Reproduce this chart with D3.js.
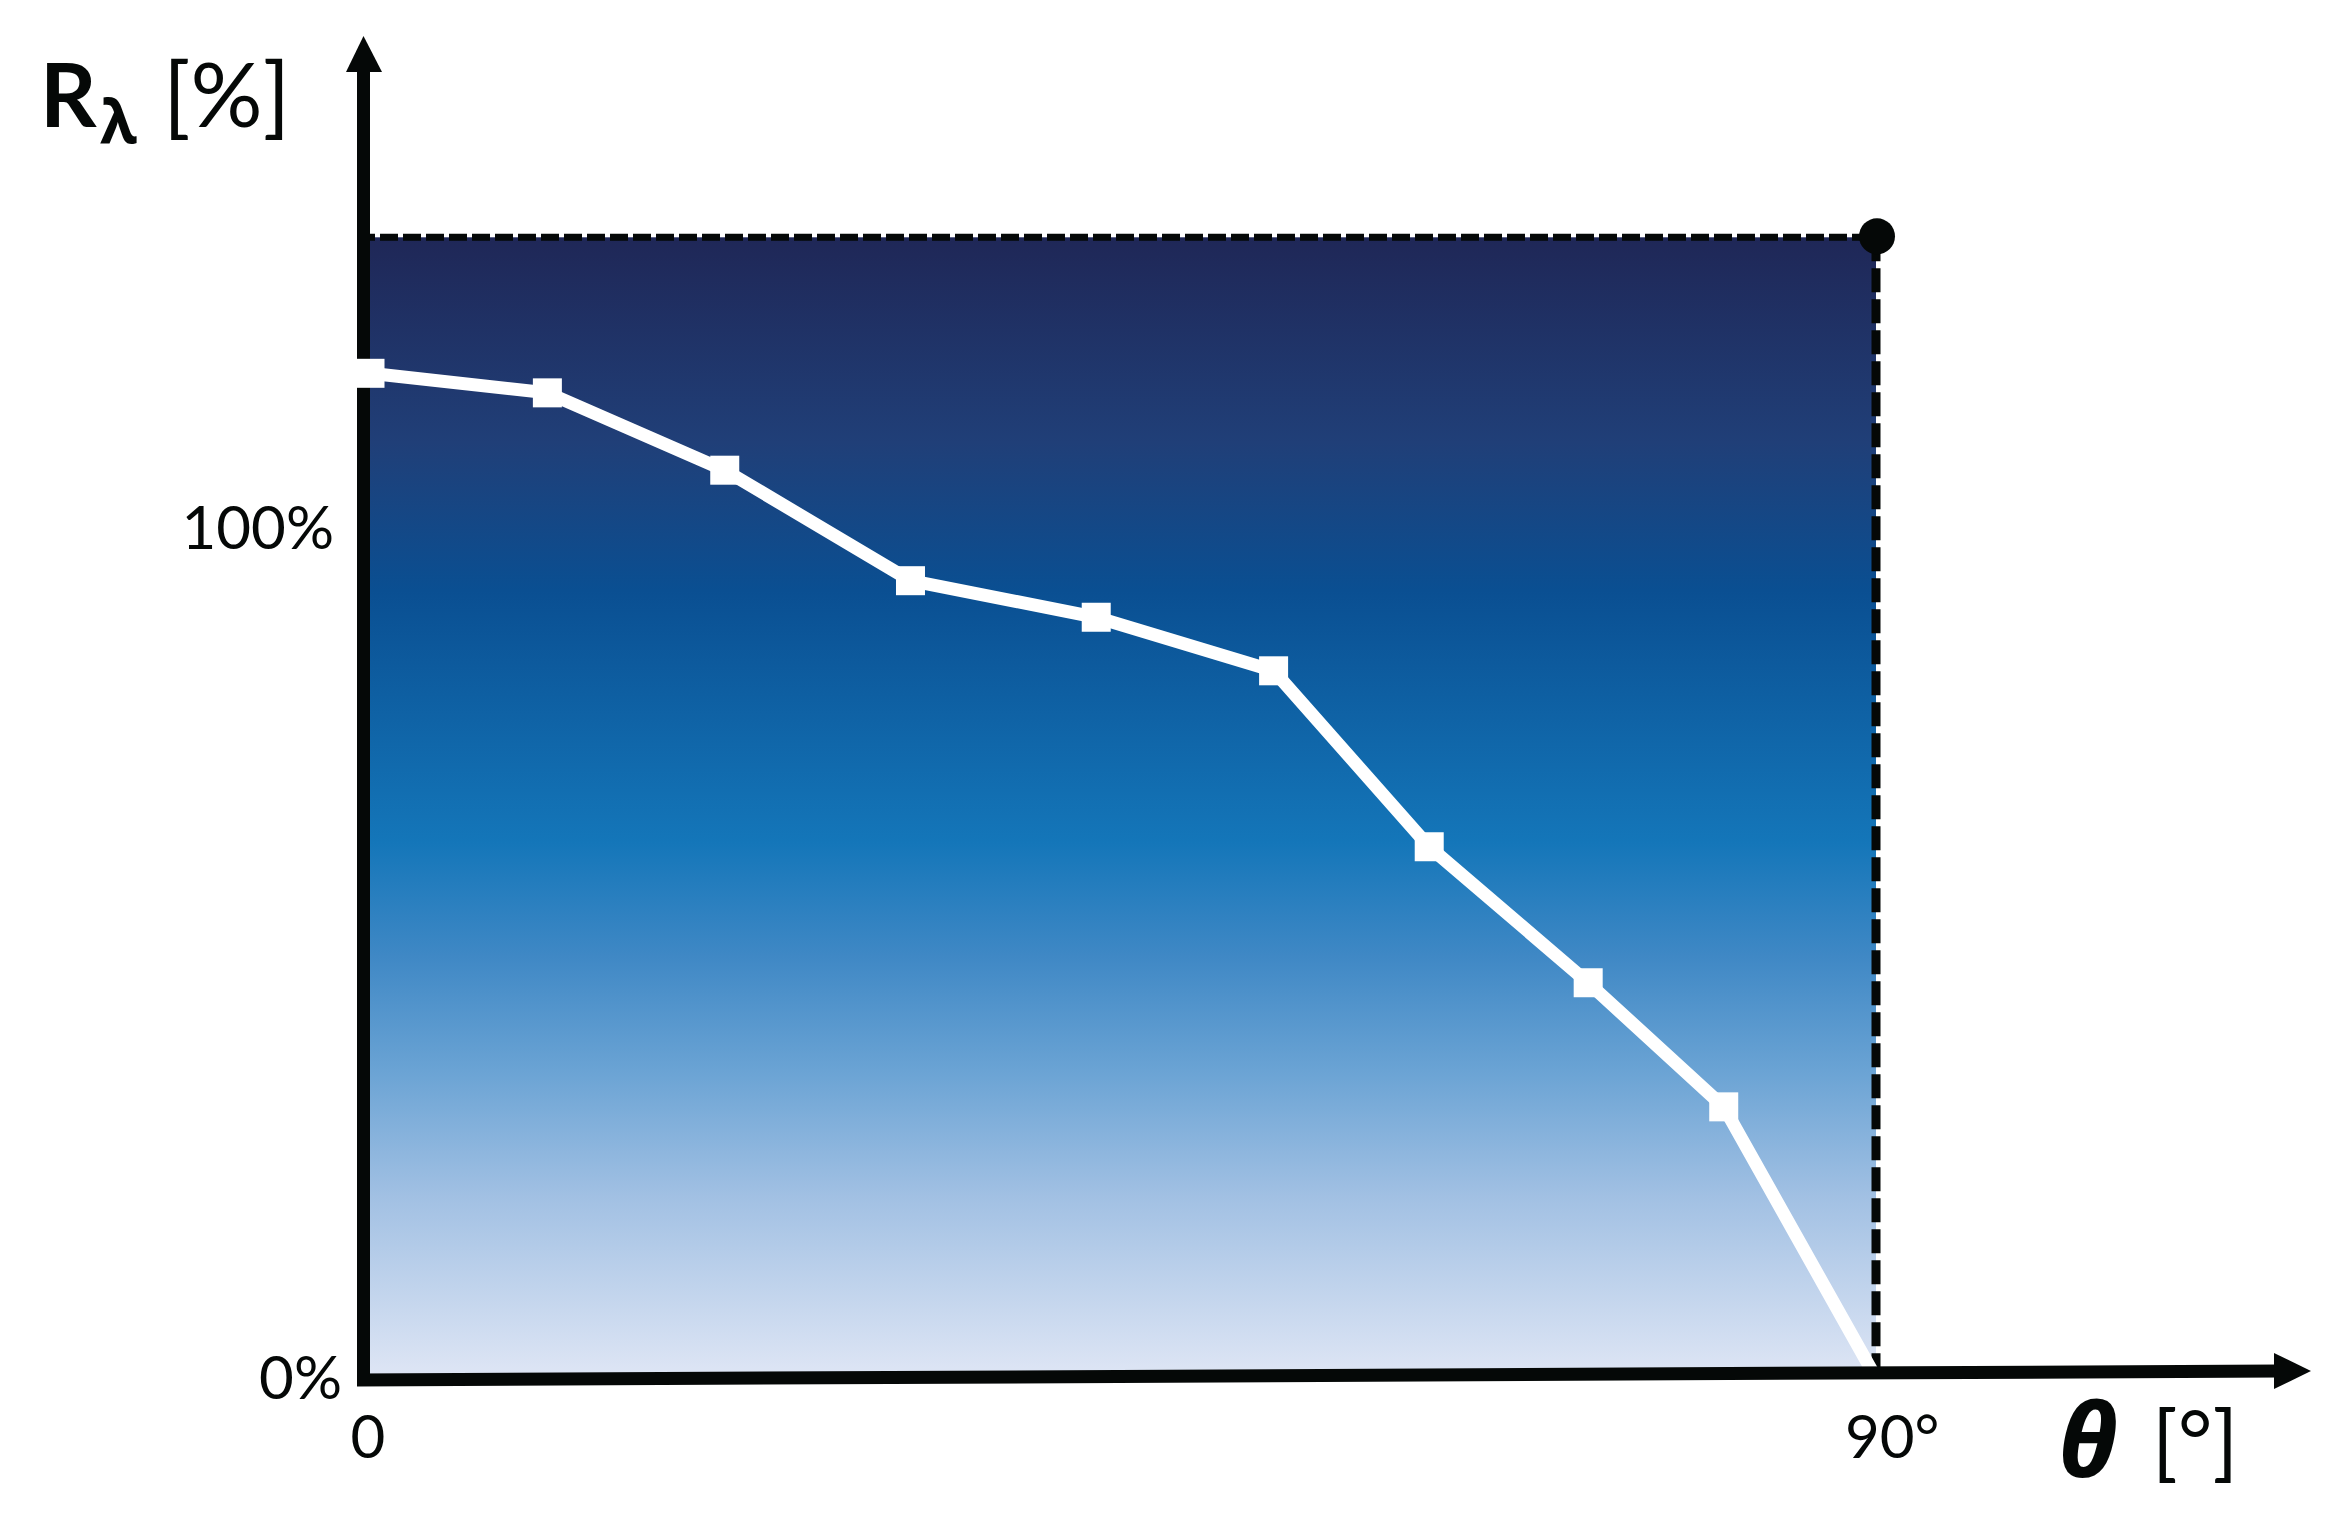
<!DOCTYPE html>
<html>
<head>
<meta charset="utf-8">
<script src="https://cdn.jsdelivr.net/npm/d3@7"></script>
<style>
  body { margin: 0; background: #ffffff; }
  svg { display: block; }
</style>
</head>
<body>
<div id="chart"></div>
<script>
// data
var angles = [0, 10.6, 21.2, 32.3, 43.4, 54, 63.3, 72.8, 80.9, 90];
var reflectance = [118.2, 115.9, 106.8, 93.8, 89.5, 83.2, 62.5, 46.5, 31.9, 0];
var ceiling = 134.2;          // dashed box top / dot
var yTicks = [0, 100];
var yTickLabels = ["0%", "100%"];
var xTicks = [0, 90];
var xTickLabels = ["0", "90°"];

// gradient of the box, top to bottom
var gradOffsets = [0, 0.18, 0.31, 0.53, 0.63, 0.73, 0.84, 1];
var gradColors = ["#1f2757", "#203f78", "#0a4f92", "#1476b9", "#3f88c5", "#6aa3d4", "#a1c0e3", "#dfe6f5"];

var width = 2344;
var height = 1523;

var x = d3.scaleLinear().domain([0, 90]).range([370, 1876]);
var y = d3.scaleLinear().domain([0, 100]).range([1378, 528]);

var svg = d3.select("#chart")
  .append("svg")
    .attr("width", width)
    .attr("height", height)
    .style("background", "#ffffff");

var defs = svg.append("defs");
var grad = defs.append("linearGradient")
  .attr("id", "boxGrad")
  .attr("gradientUnits", "userSpaceOnUse")
  .attr("x1", 0).attr("x2", 0)
  .attr("y1", y(ceiling)).attr("y2", y(0));
grad.selectAll("stop")
  .data(gradOffsets)
  .enter()
  .append("stop")
    .attr("offset", function(d) { return d; })
    .attr("stop-color", function(d, i) { return gradColors[i]; });

// filled box
svg.append("rect")
  .attr("x", x(0))
  .attr("y", y(ceiling))
  .attr("width", x(90) - x(0))
  .attr("height", y(0) - y(ceiling))
  .attr("fill", "url(#boxGrad)");

// dashed edges of the box
svg.append("line")
  .attr("x1", x(0) - 13).attr("x2", x(90))
  .attr("y1", y(ceiling)).attr("y2", y(ceiling))
  .attr("stroke", "#050807")
  .attr("stroke-width", 7)
  .attr("stroke-dasharray", "18,5");

svg.append("line")
  .attr("x1", x(90)).attr("x2", x(90))
  .attr("y1", y(ceiling)).attr("y2", y(0) - 6)
  .attr("stroke", "#050807")
  .attr("stroke-width", 9)
  .attr("stroke-dasharray", "24,7");

// white curve with square markers
var pts = angles.map(function(a, i) { return [a, reflectance[i]]; });
var line = d3.line()
  .x(function(d) { return x(d[0]); })
  .y(function(d) { return y(d[1]); });

svg.append("path")
  .datum(pts)
  .attr("d", line)
  .attr("fill", "none")
  .attr("stroke", "#ffffff")
  .attr("stroke-width", 13)
  .attr("stroke-linejoin", "miter");

// axes (drawn over the curve end)
var axisColor = "#050807";
svg.append("line")
  .attr("x1", x(0) - 13).attr("x2", 2280)
  .attr("y1", y(0) + 2).attr("y2", y(0) - 7)
  .attr("stroke", axisColor)
  .attr("stroke-width", 13);

svg.append("line")
  .attr("x1", x(0) - 6.5).attr("x2", x(0) - 6.5)
  .attr("y1", y(0) + 8).attr("y2", 70)
  .attr("stroke", axisColor)
  .attr("stroke-width", 13);

// arrow heads
svg.append("path")
  .attr("d", d3.line()([[x(0) - 24, 72], [x(0) - 6.5, 36], [x(0) + 12, 72]]) + "Z")
  .attr("fill", axisColor);
svg.append("path")
  .attr("d", d3.line()([[2274, y(0) - 25], [2311, y(0) - 7], [2274, y(0) + 11]]) + "Z")
  .attr("fill", axisColor);

svg.selectAll(".marker")
  .data(pts.slice(0, pts.length - 1))
  .enter()
  .append("rect")
    .attr("class", "marker")
    .attr("x", function(d) { return x(d[0]) - 14.5; })
    .attr("y", function(d) { return y(d[1]) - 14.5; })
    .attr("width", 29)
    .attr("height", 29)
    .attr("fill", "#ffffff");

// corner dot
svg.append("circle")
  .attr("cx", x(90) + 1)
  .attr("cy", y(ceiling) - 1)
  .attr("r", 18)
  .attr("fill", axisColor);

// tick labels
var labelFont = "Lato, 'Open Sans', sans-serif";
svg.selectAll(".ytick")
  .data(yTicks)
  .enter()
  .append("text")
    .attr("class", "ytick")
    .attr("x", function(d) { return d == 0 ? 342 : 334; })
    .attr("y", function(d) { return y(d) + 21; })
    .attr("text-anchor", "end")
    .style("font-family", labelFont)
    .style("font-size", "60px")
    .style("fill", axisColor)
    .text(function(d, i) { return yTickLabels[i]; });

svg.selectAll(".xtick")
  .data(xTicks)
  .enter()
  .append("text")
    .attr("class", "xtick")
    .attr("x", function(d) { return d == 0 ? x(d) - 2 : x(d) - 31; })
    .attr("y", 1458)
    .attr("text-anchor", function(d) { return d == 0 ? "middle" : "start"; })
    .style("font-family", labelFont)
    .style("font-size", "60px")
    .style("fill", axisColor)
    .text(function(d, i) { return xTickLabels[i]; });

// axis titles
svg.append("text")
  .attr("x", 40).attr("y", 127)
  .style("font-family", labelFont)
  .style("font-weight", "bold")
  .style("font-size", "88px")
  .style("fill", axisColor)
  .text("R");
svg.append("text")
  .attr("x", 100).attr("y", 143)
  .style("font-family", "'Open Sans', sans-serif")
  .style("font-weight", "bold")
  .style("font-size", "60px")
  .style("fill", axisColor)
  .text("λ");
svg.append("text")
  .attr("x", 163).attr("y", 127)
  .style("font-family", labelFont)
  .style("font-size", "90px")
  .style("fill", axisColor)
  .text("[%]");

svg.append("text")
  .attr("x", 2058).attr("y", 1477)
  .style("font-family", "'Open Sans', sans-serif")
  .style("font-weight", "bold")
  .style("font-style", "italic")
  .style("font-size", "102px")
  .style("fill", axisColor)
  .text("θ");
svg.append("text")
  .attr("x", 2152).attr("y", 1471)
  .style("font-family", labelFont)
  .style("font-size", "84px")
  .style("fill", axisColor)
  .text("[°]");
</script>
</body>
</html>
